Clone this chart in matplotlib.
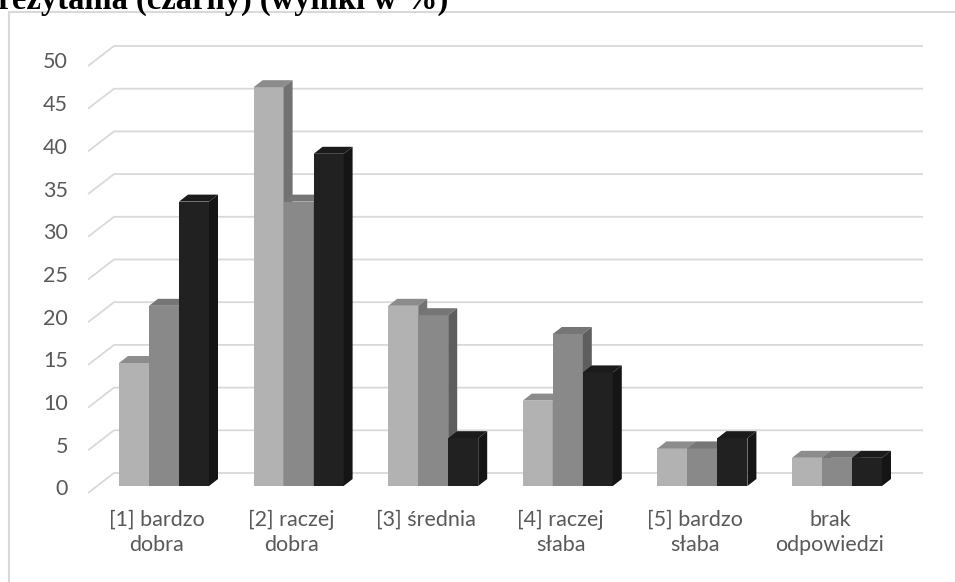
import matplotlib.pyplot as plt
from matplotlib.patches import Polygon, Rectangle

categories = ["[1] bardzo\ndobra", "[2] raczej\ndobra", "[3] średnia",
              "[4] raczej\nsłaba", "[5] bardzo\nsłaba", "brak\nodpowiedzi"]
series_light = [14.4, 46.7, 21.1, 10.0, 4.4, 3.3]
series_mid = [21.1, 33.3, 20.0, 17.8, 4.4, 3.3]
series_dark = [33.3, 38.9, 5.6, 13.3, 5.6, 3.3]
y_ticks = list(range(0, 55, 5))
title = "rezytania (czarny) (wyniki w %)"

# face colours: front, top, side
faces = [("#b2b2b2", "#8c8c8c", "#727272"),
         ("#898989", "#767676", "#5e5e5e"),
         ("#212121", "#1b1b1b", "#151515")]

W, H = 955, 582
PX_X = 134.6   # pixels per category
PX_Y = 8.54    # pixels per percent
X0, Y0 = 164, 96  # first group centre / zero line, in pixels from left / bottom

fig = plt.figure(figsize=(W / 100, H / 100), dpi=100)
ax = fig.add_axes([0, 0, 1, 1])
ax.set_xlim(-X0 / PX_X, (W - X0) / PX_X)
ax.set_ylim(-Y0 / PX_Y, (H - Y0) / PX_Y)
ax.axis("off")

bar_w = 30 / PX_X
dx, dy = 9 / PX_X, 7 / PX_Y

# back-wall gridlines with the slanted floor stub on the left
gx_front, gx_back, gx_end = -76 / PX_X, -50 / PX_X, 759 / PX_X
for v in y_ticks:
    ax.plot([gx_front, gx_back, gx_end], [v - 7 / PX_Y, v + 13 / PX_Y, v + 13 / PX_Y],
            color="#d9d9d9", lw=1.3, zorder=1, solid_capstyle="butt")
    ax.text(-96 / PX_X, v - 0.4, str(v), ha="right", va="center",
            fontsize=15.5, color="#595959", family="Lato")

z = 2
for i in range(len(categories)):
    for j, vals in enumerate([series_light, series_mid, series_dark]):
        h = vals[i]
        x0 = i + (j - 1.5) * bar_w
        x1 = x0 + bar_w
        front, top, side = faces[j]
        ax.bar(x0, h, width=bar_w, align="edge", color=front, lw=0, zorder=z)
        ax.add_patch(Polygon([(x0, h), (x1, h), (x1 + dx, h + dy), (x0 + dx, h + dy)],
                             closed=True, facecolor=top, lw=0, zorder=z))
        ax.add_patch(Polygon([(x1, 0), (x1 + dx, dy), (x1 + dx, h + dy), (x1, h)],
                             closed=True, facecolor=side, lw=0, zorder=z))
        z += 1

for i, lab in enumerate(categories):
    ax.text(i - 7 / PX_X, -24 / PX_Y, lab, ha="center", va="top",
            fontsize=15.5, color="#595959", family="Lato", linespacing=1.3)

# chart frame, cut by the right and bottom edges
fig.patches.append(Rectangle((9 / W, -0.1), 1.1, (H - 12) / H + 0.1,
                             transform=fig.transFigure, fill=False,
                             edgecolor="#d9d9d9", lw=1.5))

fig.text(-2 / W, 1 - 9 / H, title, ha="left", va="baseline",
         fontsize=23.5, fontweight="bold", family="Liberation Serif", color="black")

fig.savefig("out.png", dpi=100)
